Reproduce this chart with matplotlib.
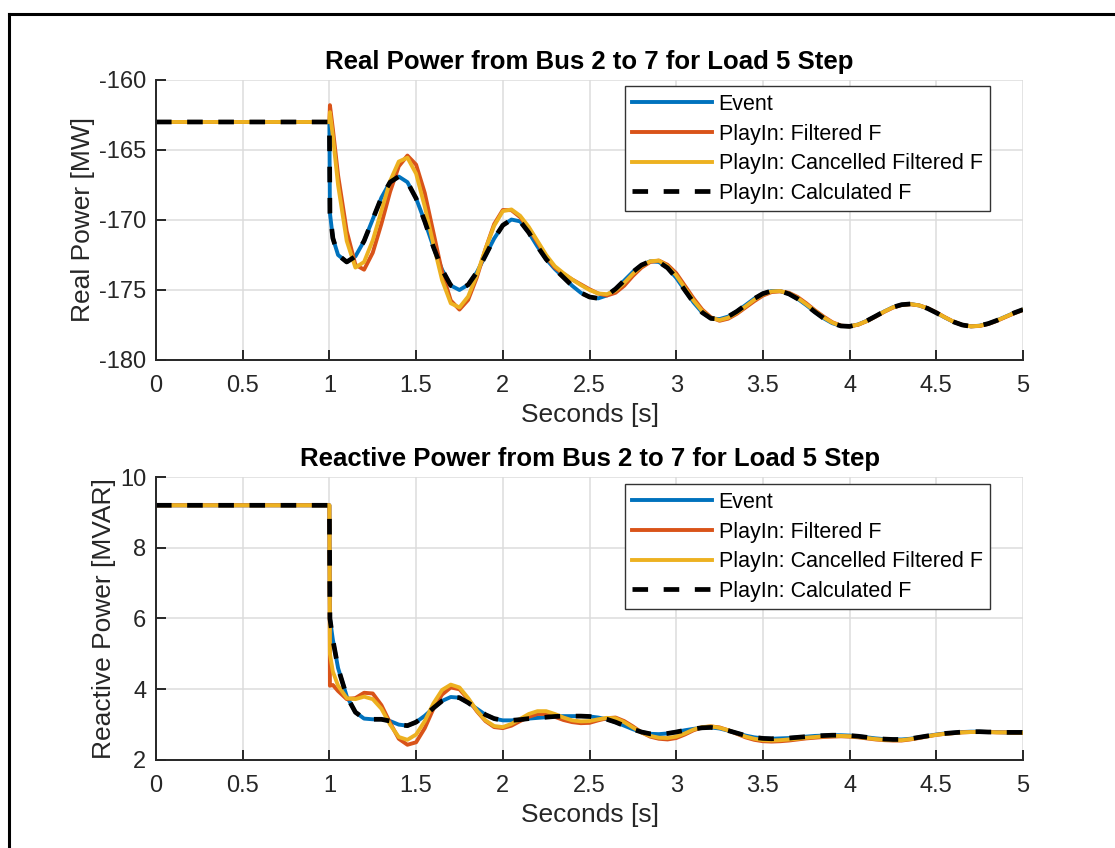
import numpy as np
import matplotlib.pyplot as plt
from matplotlib.lines import Line2D

plt.rcParams['font.family'] = ['Liberation Sans', 'DejaVu Sans']
plt.rcParams['axes.unicode_minus'] = False

# time stamps (s): flat part, step at t=1, then every 0.05 s
t_pre = [0.0, 1.0]
t_step = [1.003, 1.02, 1.05]
t_dyn = np.round(np.arange(1.10, 5.0001, 0.05), 2)
t_all = np.concatenate([t_pre, t_step, t_dyn])

# ---- Real power [MW] ----
p_pre = [-163.0, -163.0]
p_event_step = [-169.5, -171.3, -172.5]
p_event = [-173.0, -172.6, -171.5, -169.95, -168.4, -167.3, -166.9, -167.3, -168.46, -170.1,
           -171.93, -173.55, -174.68, -175.0, -174.63, -173.74, -172.54, -171.33, -170.38, -169.97,
           -170.1, -170.9, -171.9, -172.8, -173.5, -174.1, -174.7, -175.2, -175.5, -175.6,
           -175.39, -174.93, -174.33, -173.71, -173.22, -172.95, -173.0, -173.42, -174.13, -175.02,
           -175.89, -176.61, -177.03, -177.08, -176.9, -176.53, -176.08, -175.62, -175.26, -175.07,
           -175.08, -175.28, -175.63, -176.08, -176.57, -177.02, -177.37, -177.57, -177.6, -177.46,
           -177.2, -176.87, -176.53, -176.23, -176.05, -176.0, -176.1, -176.32, -176.63, -176.97,
           -177.28, -177.5, -177.6, -177.55, -177.4, -177.17, -176.9, -176.63, -176.4]
p_filt_step = [-161.8, -163.5, -166.8]
p_filt = [-170.8, -173.2, -173.55, -172.34, -170.27, -167.99, -166.17, -165.4, -166.05, -168.07,
          -170.9, -173.73, -175.75, -176.4, -175.71, -174.11, -172.08, -170.3, -169.29, -169.3,
          -169.8, -170.6, -171.6, -172.6, -173.4, -173.85, -174.25, -174.6, -174.95, -175.25,
          -175.4, -175.2, -174.7, -174.0, -173.4, -173.0, -172.9, -173.2, -173.8, -174.7,
          -175.6, -176.4, -176.95, -177.2, -177.05, -176.7, -176.25, -175.8, -175.4, -175.15,
          -175.1, -175.2, -175.5, -175.95, -176.45, -176.9, -177.3, -177.55, -177.6, -177.48,
          -177.22, -176.9, -176.56, -176.26, -176.07, -176.02, -176.1, -176.3, -176.6, -176.95,
          -177.27, -177.5, -177.6, -177.57, -177.43, -177.2, -176.93, -176.66, -176.43]
p_canc_step = [-162.3, -164.0, -167.5]
p_canc = [-171.5, -173.4, -173.0, -171.46, -169.34, -167.22, -165.83, -165.55, -166.69, -169.05,
          -171.74, -174.3, -175.95, -176.25, -175.47, -173.94, -172.07, -170.42, -169.37, -169.25,
          -169.7, -170.5, -171.5, -172.5, -173.3, -173.8, -174.25, -174.65, -175.0, -175.25,
          -175.3, -175.05, -174.5, -173.85, -173.3, -172.95, -172.9, -173.3, -173.95, -174.85,
          -175.75, -176.5, -177.0, -177.15, -176.98, -176.62, -176.17, -175.7, -175.32, -175.1,
          -175.08, -175.24, -175.57, -176.02, -176.5, -176.96, -177.33, -177.56, -177.6, -177.47,
          -177.21, -176.88, -176.54, -176.24, -176.06, -176.01, -176.1, -176.31, -176.62, -176.96,
          -177.27, -177.5, -177.6, -177.56, -177.41, -177.18, -176.91, -176.64, -176.41]

# ---- Reactive power [MVAR] ----
q_pre = [9.2, 9.2]
q_event_step = [6.0, 5.4, 4.6]
q_event = [3.8, 3.35, 3.17, 3.15, 3.15, 3.1, 3.0, 2.97, 3.07, 3.25,
           3.47, 3.67, 3.78, 3.76, 3.62, 3.45, 3.28, 3.17, 3.12, 3.12,
           3.14, 3.17, 3.19, 3.21, 3.23, 3.24, 3.24, 3.24, 3.23, 3.2,
           3.15, 3.07, 2.97, 2.87, 2.79, 2.74, 2.73, 2.75, 2.79, 2.84,
           2.88, 2.91, 2.92, 2.89, 2.83, 2.76, 2.69, 2.64, 2.61, 2.6,
           2.61, 2.62, 2.64, 2.66, 2.68, 2.69, 2.7, 2.7, 2.69, 2.67,
           2.64, 2.61, 2.59, 2.58, 2.58, 2.6, 2.64, 2.68, 2.72, 2.75,
           2.77, 2.79, 2.8, 2.8, 2.79, 2.79, 2.78, 2.78, 2.78]
q_filt_step = [4.1, 4.12, 3.95]
q_filt = [3.72, 3.75, 3.9, 3.88, 3.55, 3.05, 2.6, 2.43, 2.5, 2.9,
          3.45, 3.85, 4.05, 4.0, 3.72, 3.38, 3.1, 2.93, 2.9, 2.97,
          3.1, 3.22, 3.3, 3.3, 3.22, 3.13, 3.07, 3.04, 3.05, 3.12,
          3.18, 3.2, 3.1, 2.95, 2.78, 2.66, 2.6, 2.58, 2.62, 2.72,
          2.84, 2.92, 2.95, 2.92, 2.84, 2.74, 2.64, 2.57, 2.53, 2.52,
          2.53, 2.55, 2.58, 2.61, 2.63, 2.65, 2.66, 2.67, 2.66, 2.64,
          2.61, 2.58, 2.56, 2.55, 2.55, 2.58, 2.62, 2.67, 2.71, 2.74,
          2.76, 2.78, 2.79, 2.79, 2.79, 2.78, 2.78, 2.77, 2.77]
q_canc_step = [5.0, 4.5, 4.1]
q_canc = [3.75, 3.72, 3.79, 3.72, 3.45, 3.0, 2.65, 2.57, 2.72, 3.1,
          3.6, 3.98, 4.13, 4.05, 3.75, 3.4, 3.12, 2.96, 2.93, 3.02,
          3.16, 3.3, 3.38, 3.38, 3.3, 3.2, 3.12, 3.09, 3.1, 3.15,
          3.19, 3.18, 3.07, 2.92, 2.78, 2.68, 2.63, 2.62, 2.66, 2.75,
          2.86, 2.93, 2.95, 2.91, 2.84, 2.75, 2.66, 2.6, 2.56, 2.55,
          2.56, 2.58, 2.6, 2.63, 2.65, 2.67, 2.68, 2.68, 2.67, 2.65,
          2.62, 2.59, 2.57, 2.56, 2.56, 2.59, 2.63, 2.67, 2.71, 2.74,
          2.76, 2.78, 2.79, 2.79, 2.79, 2.78, 2.78, 2.77, 2.77]

labels = ['Event', 'PlayIn: Filtered F', 'PlayIn: Cancelled Filtered F', 'PlayIn: Calculated F']
colors = ['#0072BD', '#D95319', '#EDB120', 'black']

panels = [
    dict(series=[p_pre + p_event_step + p_event, p_pre + p_filt_step + p_filt,
                 p_pre + p_canc_step + p_canc, p_pre + p_event_step + p_event],
         title='Real Power from Bus 2 to 7 for Load 5 Step', ylabel='Real Power [MW]',
         ylim=(-180, -160), yticks=[-180, -175, -170, -165, -160],
         pos=[0.1399, 0.5755, 0.7776, 0.3302], leg_top=0.977),
    dict(series=[q_pre + q_event_step + q_event, q_pre + q_filt_step + q_filt,
                 q_pre + q_canc_step + q_canc, q_pre + q_event_step + q_event],
         title='Reactive Power from Bus 2 to 7 for Load 5 Step', ylabel='Reactive Power [MVAR]',
         ylim=(2, 10), yticks=[2, 4, 6, 8, 10],
         pos=[0.1399, 0.1038, 0.7776, 0.3337], leg_top=0.974),
]

fig = plt.figure(figsize=(11.15, 8.48), dpi=100)
tc = '#262626'

for p in panels:
    ax = fig.add_axes(p['pos'])
    for i, (vals, c, lab) in enumerate(zip(p['series'], colors, labels)):
        if i < 3:
            ax.plot(t_all, vals, color=c, lw=2.8, label=lab, solid_joinstyle='round')
        else:
            ax.plot(t_all, vals, color=c, lw=3.4, ls=(0, (3.3, 3.3)), label=lab)
    ax.set_xlim(0, 5)
    ax.set_ylim(*p['ylim'])
    ax.set_xticks(np.arange(0, 5.01, 0.5))
    ax.set_xticklabels(['0', '0.5', '1', '1.5', '2', '2.5', '3', '3.5', '4', '4.5', '5'])
    ax.set_yticks(p['yticks'])
    ax.grid(True, color='#dcdcdc', lw=1.1)
    ax.set_axisbelow(True)
    for s in ['top', 'right']:
        ax.spines[s].set_visible(False)
    for s in ['left', 'bottom']:
        ax.spines[s].set_color(tc)
        ax.spines[s].set_linewidth(1.4)
    ax.tick_params(direction='in', length=7, width=1.4, colors=tc, labelsize=17)
    ax.tick_params(axis='x', pad=11)
    ax.tick_params(axis='y', pad=7)
    ax.set_xlabel('Seconds [s]', fontsize=19, color=tc, labelpad=4)
    ax.set_ylabel(p['ylabel'], fontsize=19, color=tc, labelpad=3)
    ax.set_title(p['title'], fontsize=18.5, fontweight='bold', pad=8)
    leg = ax.legend(loc='upper right', bbox_to_anchor=(0.962, p['leg_top']), fontsize=15.5,
                    handlelength=3.7, handletextpad=0.3, labelspacing=0.4,
                    borderpad=0.35, fancybox=False, framealpha=1, borderaxespad=0.0)
    leg.get_frame().set_edgecolor('#333333')
    leg.get_frame().set_linewidth(1.0)

# black frame around the figure (left and top edges visible)
fig.add_artist(Line2D([9 / 1115, 9 / 1115], [0, 1 - 14 / 848], color='black', lw=2.2,
                      transform=fig.transFigure))
fig.add_artist(Line2D([9 / 1115, 1], [1 - 14 / 848, 1 - 14 / 848], color='black', lw=2.2,
                      transform=fig.transFigure))

fig.savefig('out.png', dpi=100)
